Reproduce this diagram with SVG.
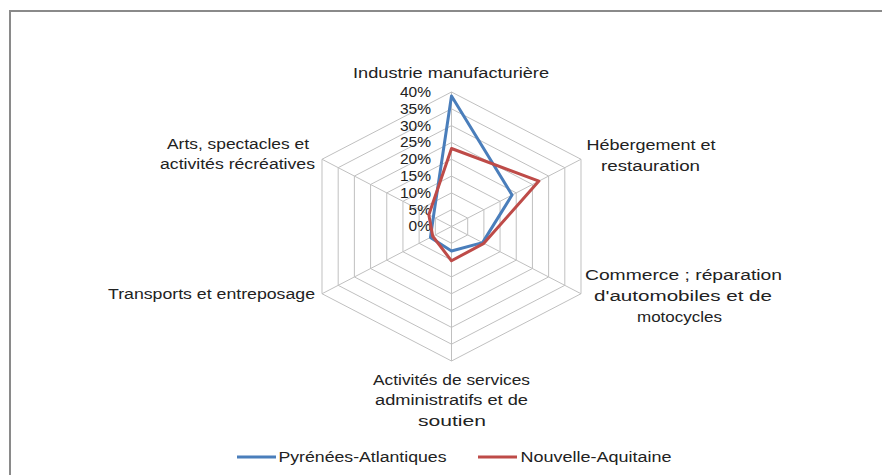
<svg xmlns="http://www.w3.org/2000/svg" width="882" height="475" viewBox="0 0 882 475">
<style>
.grid{fill:none;stroke:#c0c0c0;stroke-width:1;vector-effect:non-scaling-stroke}
.ser{fill:none;stroke-width:3;stroke-linejoin:round;vector-effect:non-scaling-stroke}
.s1{stroke:#4a7ebb}
.s2{stroke:#be4b48}
text{font-family:"Liberation Sans",Arial,sans-serif;font-size:15.5px;fill:#222}
.c{text-anchor:middle}
.e{text-anchor:end}
</style>
<rect x="0" y="0" width="882" height="475" fill="#fff"/>
<rect id="frame" x="10" y="11" width="900" height="500" fill="#fff" stroke="#8a8a8a" stroke-width="2"/>

<g id="grid" transform="translate(451.5,226.5) scale(3.2375,3.3625)">
  <polygon class="grid" points="0,-5 5,-2.5 5,2.5 0,5 -5,2.5 -5,-2.5"/>
  <polygon class="grid" points="0,-10 10,-5 10,5 0,10 -10,5 -10,-5"/>
  <polygon class="grid" points="0,-15 15,-7.5 15,7.5 0,15 -15,7.5 -15,-7.5"/>
  <polygon class="grid" points="0,-20 20,-10 20,10 0,20 -20,10 -20,-10"/>
  <polygon class="grid" points="0,-25 25,-12.5 25,12.5 0,25 -25,12.5 -25,-12.5"/>
  <polygon class="grid" points="0,-30 30,-15 30,15 0,30 -30,15 -30,-15"/>
  <polygon class="grid" points="0,-35 35,-17.5 35,17.5 0,35 -35,17.5 -35,-17.5"/>
  <polygon class="grid" points="0,-40 40,-20 40,20 0,40 -40,20 -40,-20"/>
  <path class="grid" d="M0,0L0,-40M0,0L40,-20M0,0L40,20M0,0L0,40M0,0L-40,20M0,0L-40,-20"/>
</g>

<g id="scale-labels">
  <text class="e" x="431" y="97">40%</text>
  <text class="e" x="431" y="113.8">35%</text>
  <text class="e" x="431" y="130.6">30%</text>
  <text class="e" x="431" y="147.4">25%</text>
  <text class="e" x="431" y="164.2">20%</text>
  <text class="e" x="431" y="181">15%</text>
  <text class="e" x="431" y="197.8">10%</text>
  <text class="e" x="431" y="214.6">5%</text>
  <text class="e" x="431" y="231.4">0%</text>
</g>

<g id="connectors" transform="translate(451.5,226.5) scale(3.2375,3.3625)">
  <polygon id="series-pyrenees" class="ser s1" points="0,-38.8 18.7,-9.35 9.6,4.8 0,7.3 -6.5,3.25 -5.6,-2.8"/>
  <polygon id="series-nouvelle-aquitaine" class="ser s2" points="0,-23.2 27,-13.5 10,5 0,10.2 -5.8,2.9 -7,-3.5"/>
</g>

<g id="axis-industrie">
  <text class="c" x="451" y="78" textLength="196" lengthAdjust="spacingAndGlyphs">Industrie manufacturière</text>
</g>
<g id="axis-hebergement">
  <text class="c" x="651" y="150" textLength="129" lengthAdjust="spacingAndGlyphs">Hébergement et</text>
  <text class="c" x="650.5" y="171" textLength="99" lengthAdjust="spacingAndGlyphs">restauration</text>
</g>
<g id="axis-commerce">
  <text class="c" x="683.5" y="280" textLength="197" lengthAdjust="spacingAndGlyphs">Commerce ; réparation</text>
  <text class="c" x="683" y="301" textLength="178" lengthAdjust="spacingAndGlyphs">d'automobiles et de</text>
  <text class="c" x="679.5" y="322" textLength="85" lengthAdjust="spacingAndGlyphs">motocycles</text>
</g>
<g id="axis-services">
  <text class="c" x="451.5" y="385" textLength="157" lengthAdjust="spacingAndGlyphs">Activités de services</text>
  <text class="c" x="451.5" y="405" textLength="153" lengthAdjust="spacingAndGlyphs">administratifs et de</text>
  <text class="c" x="452" y="426" textLength="68" lengthAdjust="spacingAndGlyphs">soutien</text>
</g>
<g id="axis-transports">
  <text class="c" x="211.5" y="299" textLength="207" lengthAdjust="spacingAndGlyphs">Transports et entreposage</text>
</g>
<g id="axis-arts">
  <text class="c" x="238" y="148.5" textLength="142" lengthAdjust="spacingAndGlyphs">Arts, spectacles et</text>
  <text class="c" x="237.5" y="169" textLength="155" lengthAdjust="spacingAndGlyphs">activités récréatives</text>
</g>

<g id="legend">
  <line x1="237" y1="457" x2="276" y2="457" stroke="#4a7ebb" stroke-width="3"/>
  <text x="278.5" y="461.5" textLength="168" lengthAdjust="spacingAndGlyphs">Pyrénées-Atlantiques</text>
  <line x1="478" y1="457" x2="517" y2="457" stroke="#be4b48" stroke-width="3"/>
  <text x="520.5" y="461.5" textLength="151" lengthAdjust="spacingAndGlyphs">Nouvelle-Aquitaine</text>
</g>
</svg>
